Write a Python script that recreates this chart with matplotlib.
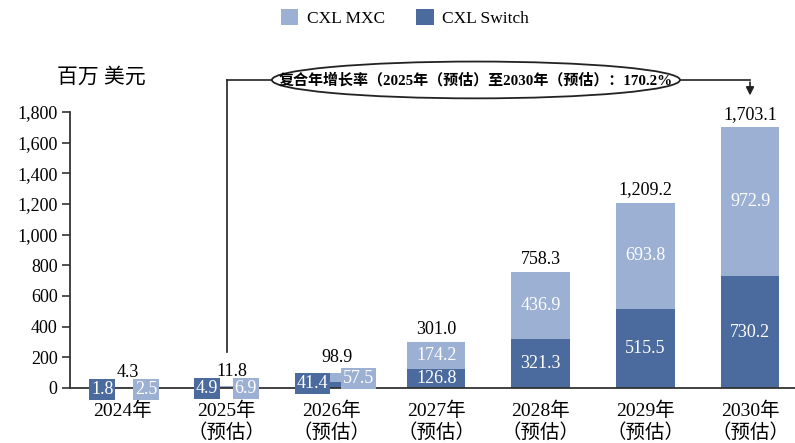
import matplotlib
matplotlib.use("Agg")
import matplotlib.pyplot as plt
from matplotlib.patches import Ellipse, Patch

plt.rcParams['font.family'] = ['Liberation Serif', 'Noto Sans CJK SC']

years = ["2024年", "2025年\n（预估）", "2026年\n（预估）", "2027年\n（预估）",
         "2028年\n（预估）", "2029年\n（预估）", "2030年\n（预估）"]
switch = [1.8, 4.9, 41.4, 126.8, 321.3, 515.5, 730.2]
mxc = [2.5, 6.9, 57.5, 174.2, 436.9, 693.8, 972.9]
totals = [4.3, 11.8, 98.9, 301.0, 758.3, 1209.2, 1703.1]
cagr_text = "复合年增长率（2025年（预估）至2030年（预估）：170.2%"

dark = "#4b6a9d"
light = "#9cb0d3"

fig = plt.figure(figsize=(7.95, 4.43), dpi=100)
ax = fig.add_axes([70/795, 1-388/443, 725/795, 276/443])

x = list(range(len(years)))
w = 0.56
ax.bar(x, switch, w, color=dark, zorder=2)
ax.bar(x, mxc, w, bottom=switch, color=light, zorder=2)

ax.set_xlim(-0.5, 6.43)
ax.set_ylim(0, 1800)
ax.set_yticks(range(0, 1801, 200))
ax.set_yticklabels([f"{v:,}" for v in range(0, 1801, 200)], fontsize=13)
ax.set_xticks(x)
ax.set_xticklabels(years, fontsize=14, linespacing=1.2)
ax.tick_params(axis='x', length=0, pad=10)
ax.tick_params(axis='y', length=6, width=1.2, color="#333333", pad=3)
for s in ["top", "right"]:
    ax.spines[s].set_visible(False)
for s in ["left", "bottom"]:
    ax.spines[s].set_linewidth(1.3)
    ax.spines[s].set_color("#333333")

# Large bars: labels inside and totals above
for i in range(3, 7):
    ax.text(i, switch[i]/2, f"{switch[i]:.1f}", ha='center', va='center',
            color='white', fontsize=13, zorder=3)
    ax.text(i, switch[i] + mxc[i]/2, f"{mxc[i]:.1f}", ha='center', va='center',
            color='white', fontsize=13, zorder=3)
    ax.annotate(f"{totals[i]:,.1f}", (i, totals[i]), xytext=(0, 3),
                textcoords='offset points', ha='center', va='bottom', fontsize=13)

# Small bars: boxed labels beside
small_y = [(-10, -10), (-5, -5), (30, 60)]
small_off = [(-0.19, 0.23), (-0.19, 0.18), (-0.18, 0.26)]
tot_y = [100, 105, 198]
for i in range(3):
    ax.text(i + small_off[i][0], small_y[i][0], f"{switch[i]:.1f}", ha='center', va='center',
            color='white', fontsize=13, zorder=4,
            bbox=dict(boxstyle='square,pad=0.1', fc=dark, ec='none'), clip_on=False)
    ax.text(i + small_off[i][1], small_y[i][1], f"{mxc[i]:.1f}", ha='center', va='center',
            color='white', fontsize=13, zorder=4,
            bbox=dict(boxstyle='square,pad=0.1', fc=light, ec='none'), clip_on=False)
    ax.text(i + 0.05, tot_y[i], f"{totals[i]:,.1f}", ha='center', va='center', fontsize=13)

# CAGR annotation
ey = 2009
ax.plot([1, 1], [235, ey], color='#222222', lw=1.2, clip_on=False)
ax.plot([1, 3.38 - 1.95], [ey, ey], color='#222222', lw=1.2, clip_on=False)
ax.plot([3.38 + 1.95, 6], [ey, ey], color='#222222', lw=1.2, clip_on=False)
ax.annotate("", xy=(6, 1890), xytext=(6, ey + 4),
            arrowprops=dict(arrowstyle='-|>', color='#222222', lw=1.2, mutation_scale=12),
            annotation_clip=False)
ell = Ellipse((3.38, ey), 3.9, 240, fc='white', ec='#222222', lw=1.3, clip_on=False, zorder=5)
ax.add_patch(ell)
ax.text(3.38, ey, cagr_text, ha='center', va='center', fontsize=10.8, fontweight='bold',
        zorder=6, clip_on=False)

# Y label
fig.text(101/795, 1-78/443, "百万 美元", ha='center', va='center', fontsize=15)

# Legend
handles = [Patch(fc=light, ec='none', label="CXL MXC"), Patch(fc=dark, ec='none', label="CXL Switch")]
fig.legend(handles=handles, loc='center', bbox_to_anchor=(405/795, 1-18/443), ncol=2,
           frameon=False, fontsize=12.5, handlelength=1.0, handleheight=1.0,
           handletextpad=0.5, columnspacing=1.8)

fig.savefig("out.png", dpi=100)
